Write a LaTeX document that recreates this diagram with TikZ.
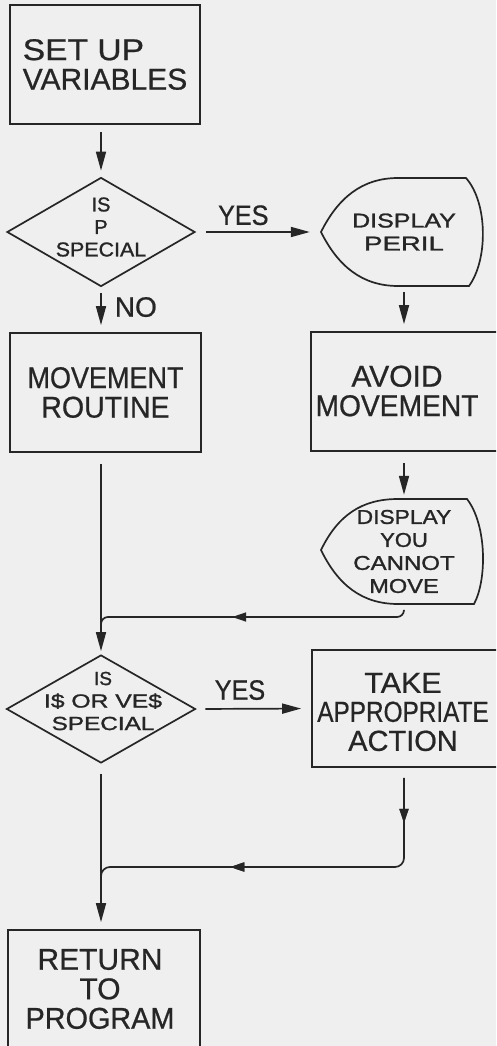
\documentclass[tikz,border=0pt]{standalone}
\usepackage{fontspec}
\setmainfont[FakeBold=0.7]{Liberation Sans}
\newfontfamily\smallhand[FakeBold=1.2]{Liberation Sans}
\usepackage{graphicx}
\usetikzlibrary{arrows.meta,shapes.geometric,decorations.markings,calc}
\definecolor{paper}{RGB}{239,239,239}
\definecolor{ink}{RGB}{38,38,38}
% horizontal stretch of a single line of lettering
\newcommand{\hstretch}[2]{\scalebox{#1}[1]{#2}}

\begin{document}
\begin{tikzpicture}[x=1pt,y=-1pt,
  line/.style={draw=ink, line width=1.7pt},
  flow/.style={line, -{Triangle[length=19pt,width=10pt]}},
  procbox/.style={line, rectangle, inner sep=0pt, text=ink, align=center,
                  font=\fontsize{30}{29.5}\selectfont},
  decision/.style={line, diamond, inner sep=0pt},
  dtext/.style={text=ink, align=center, inner sep=0pt,
                font=\smallhand\fontsize{20}{22.5}\selectfont},
  disptext/.style={text=ink, align=center, inner sep=0pt,
                font=\smallhand\fontsize{20}{23}\selectfont},
  answer/.style={text=ink, inner sep=0pt, font=\fontsize{28}{28}\selectfont},
  midarrow/.style={decoration={markings,
      mark=at position #1 with {\arrow{Triangle[length=14pt,width=9pt]}}},
      postaction={decorate}},
]
\useasboundingbox (0,0) rectangle (496,1046);
\clip (0,0) rectangle (496,1046);
\fill[paper] (0,0) rectangle (496,1046);

% ---------- left column ----------
\node[procbox, minimum width=190pt, minimum height=119pt, align=left] (setup) at (105,64.5)
  {\hstretch{1.12}{SET UP}\\VARIABLES};
\node[decision, minimum width=188pt, minimum height=109pt] (isp) at (101,232) {};
\node[dtext] (isptxt) at (101,227) {IS\\P\\\hstretch{1.07}{SPECIAL}};
\node[procbox, minimum width=191pt, minimum height=119pt] (move) at (105.5,392.5)
  {\hstretch{0.9}{MOVEMENT}\\\hstretch{0.95}{ROUTINE}};
\node[decision, minimum width=189pt, minimum height=108pt] (isv) at (101,709) {};
\node[dtext, font=\smallhand\fontsize{19}{22.5}\selectfont] (isvtxt) at (103,701)
  {IS\\\hstretch{1.3}{I\$ OR VE\$}\\\hstretch{1.28}{SPECIAL}};
\node[procbox, minimum width=192pt, minimum height=140pt] (ret) at (104,1000) {};
\node[text=ink, align=center, inner sep=0pt, font=\fontsize{30}{29.5}\selectfont]
  (rettxt) at (100,989) {RETURN\\TO\\\hstretch{0.96}{PROGRAM}};

% ---------- right column ----------
\node[disptext, minimum width=166pt, minimum height=108pt] (peril) at (404,232)
  {\hstretch{1.25}{DISPLAY}\\\hstretch{1.38}{PERIL}};
\draw[line] (321,232) .. controls (338,198) and (362,178) .. (398,178) -- (466,178)
  .. controls (488,203) and (488,260) .. (469,286) -- (398,286)
  .. controls (362,286) and (338,266) .. cycle;

\node[procbox, minimum width=189pt, minimum height=119pt] (avoid) at (405.5,391.5) {};
\node[text=ink, align=center, inner sep=0pt, font=\fontsize{30}{29.5}\selectfont]
  (avoidtxt) at (397,391) {AVOID\\\hstretch{0.94}{MOVEMENT}};

\node[disptext, minimum width=166pt, minimum height=105pt] (cannot) at (404,551.5)
  {\hstretch{1.14}{DISPLAY}\\\hstretch{1.1}{YOU}\\\hstretch{1.2}{CANNOT}\\\hstretch{1.18}{MOVE}};
\draw[line] (321,550) .. controls (338,515) and (362,499) .. (398,499) -- (467,499)
  .. controls (487,525) and (487,580) .. (474,604) -- (398,604)
  .. controls (362,604) and (338,585) .. cycle;

\node[procbox, minimum width=188pt, minimum height=117pt] (take) at (406,708.5) {};
\node[text=ink, align=center, inner sep=0pt, font=\fontsize{29}{29}\selectfont]
  (taketxt) at (403,712) {\hstretch{1.05}{TAKE}\\\hstretch{0.84}{APPROPRIATE}\\ACTION};

% ---------- junction points ----------
\coordinate (j1) at (101,617);
\coordinate (j2) at (101,867);

% ---------- connectors ----------
\draw[flow, shorten <=7pt, shorten >=6pt] (isp.north |- setup.south) -- (isp.north);
\draw[flow, shorten <=10pt, shorten >=11pt] (isp.east) -- (peril.west)
  node[answer, pos=0.38, above=6pt] (yes1) {\hstretch{0.9}{YES}};
\draw[flow, shorten <=6pt, shorten >=7pt] (isp.south) -- (isp.south |- move.north)
  node[answer, pos=0.44, right=13pt] (no1) {NO};
\draw[flow, shorten <=6pt, shorten >=7pt] (peril.south) -- (peril.south |- avoid.north);
\draw[flow, shorten <=11pt, shorten >=4pt] (cannot.north |- avoid.south) -- (cannot.north);
\draw[flow, shorten <=11pt, shorten >=3pt] (isv.north |- move.south) -- (isv.north);
\draw[line, rounded corners=7pt, midarrow=176pt]
  ($(cannot.south)+(0,6)$) -- (cannot.south |- j1) -- (j1) -- ($(j1)+(0,14)$);
\draw[flow, shorten <=9pt, shorten >=10pt] (isv.east) -- (take.west)
  node[answer, pos=0.38, above=8pt] (yes2) {\hstretch{0.9}{YES}};
\draw[line, rounded corners=9pt, midarrow=45pt, midarrow=259pt]
  ($(take.south -| cannot.south)+(0,10)$) -- (cannot.south |- j2) -- (j2) -- ($(j2)+(0,16)$);
\draw[flow, shorten <=10pt, shorten >=7pt] (isv.south) -- (isv.south |- ret.north);
\end{tikzpicture}
\end{document}
